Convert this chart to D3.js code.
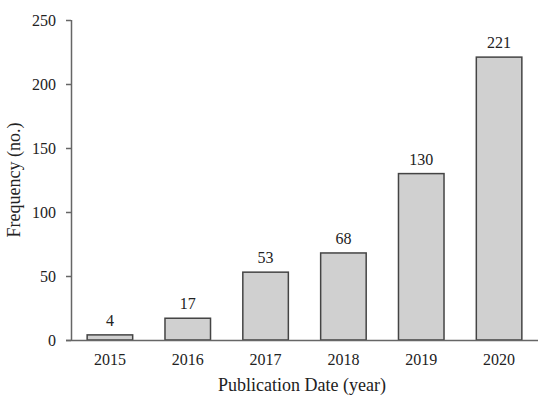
<!DOCTYPE html>
<html><head><meta charset="utf-8">
<script src="https://cdn.jsdelivr.net/npm/d3@7"></script>
<style>body{margin:0;background:#fff}svg{display:block}text{font-family:"Liberation Serif","Times New Roman",serif;fill:#222}</style>
</head><body><svg width="550" height="402"></svg>
<script>
const years = ["2015","2016","2017","2018","2019","2020"];
const counts = [4,17,53,68,130,221];
const yTicks = [0,50,100,150,200,250];

const svg = d3.select("svg");
const x = d3.scaleBand().domain(years).range([71,538]).paddingInner(0.415).paddingOuter(0.2075);
const y = d3.scaleLinear().domain([0,250]).range([340,20]);

svg.selectAll("rect.bar").data(years).enter().append("rect")
  .attr("x", d=>x(d)).attr("width", x.bandwidth())
  .attr("y", (d,i)=>y(counts[i])).attr("height", (d,i)=>y(0)-y(counts[i]))
  .attr("fill","#d0d0d0").attr("stroke","#444").attr("stroke-width",1.5);

svg.selectAll("text.val").data(years).enter().append("text")
  .attr("x", d=>x(d)+x.bandwidth()/2).attr("y",(d,i)=>y(counts[i])-9)
  .attr("text-anchor","middle").attr("font-size",16).text((d,i)=>counts[i]);

const yAxis = svg.append("g").attr("transform","translate(71,0)")
  .call(d3.axisLeft(y).tickValues(yTicks).tickSize(5).tickPadding(10));
const xAxis = svg.append("g").attr("transform","translate(0,340)")
  .call(d3.axisBottom(x).tickSize(0).tickPadding(14));
xAxis.select(".domain").attr("d","M66,0.5H538");
[yAxis,xAxis].forEach(g=>{
  g.selectAll("path,line").attr("stroke","#666").attr("stroke-width",1.5);
  g.selectAll("text").attr("font-size",16).attr("font-family","Liberation Serif").attr("fill","#222");
});
yAxis.select(".domain").attr("d","M0.5,20V340");

svg.append("text").attr("x",302).attr("y",391).attr("text-anchor","middle").attr("font-size",18).text("Publication Date (year)");
svg.append("text").attr("transform","translate(20,180) rotate(-90)").attr("text-anchor","middle").attr("font-size",18).text("Frequency (no.)");
</script></body></html>
